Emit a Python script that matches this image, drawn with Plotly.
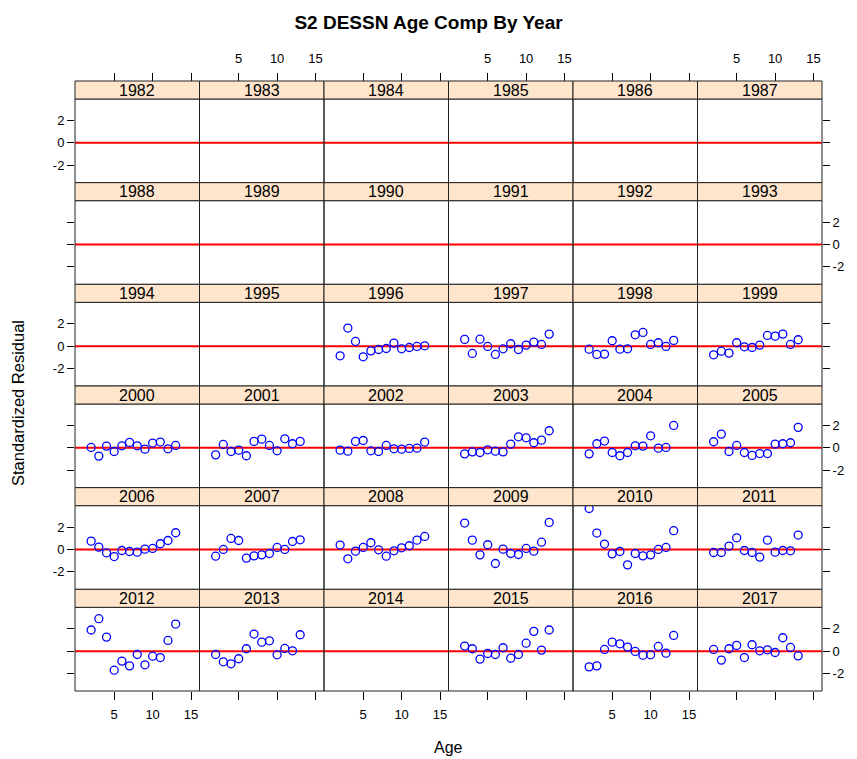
import plotly.graph_objects as go

# Ages and years shown in the trellis
ages = list(range(2, 14))
years = list(range(1982, 2018))

# Standardized residuals by year (ages 2-13)
resid_1996 = [-0.86, 1.61, 0.42, -0.95, -0.42, -0.30, -0.21, 0.27, -0.24, -0.12, -0.03, 0.03]
resid_1997 = [0.60, -0.65, 0.62, -0.03, -0.74, -0.24, 0.21, -0.30, 0.09, 0.36, 0.15, 1.07]
resid_1998 = [-0.27, -0.74, -0.71, 0.48, -0.27, -0.24, 1.01, 1.22, 0.15, 0.30, -0.03, 0.51]
resid_1999 = [-0.77, -0.45, -0.62, 0.30, -0.06, -0.12, 0.09, 0.95, 0.89, 1.07, 0.15, 0.57]
resid_2000 = [0.03, -0.74, 0.15, -0.33, 0.18, 0.48, 0.18, -0.12, 0.42, 0.51, -0.09, 0.21]
resid_2001 = [-0.63, 0.30, -0.33, -0.21, -0.71, 0.57, 0.77, 0.21, -0.27, 0.80, 0.36, 0.57]
resid_2002 = [-0.21, -0.30, 0.57, 0.65, -0.27, -0.33, 0.21, -0.09, -0.12, -0.06, -0.03, 0.51]
resid_2003 = [-0.54, -0.36, -0.42, -0.18, -0.30, -0.36, 0.33, 0.98, 0.89, 0.45, 0.68, 1.52]
resid_2004 = [-0.54, 0.36, 0.60, -0.42, -0.71, -0.42, 0.18, 0.15, 1.07, -0.03, 0.03, 1.99]
resid_2005 = [0.54, 1.22, -0.33, 0.21, -0.42, -0.68, -0.51, -0.51, 0.33, 0.36, 0.45, 1.82]
resid_2006 = [0.74, 0.21, -0.30, -0.63, -0.09, -0.18, -0.24, 0.03, 0.09, 0.51, 0.80, 1.49]
resid_2007 = [-0.60, 0.00, 0.98, 0.80, -0.77, -0.57, -0.48, -0.36, 0.18, 0.00, 0.71, 0.86]
resid_2008 = [0.39, -0.83, -0.15, 0.18, 0.60, -0.03, -0.60, -0.12, 0.15, 0.33, 0.83, 1.16]
resid_2009 = [2.35, 0.83, -0.48, 0.42, -1.25, 0.03, -0.36, -0.45, 0.09, -0.15, 0.65, 2.41]
resid_2010 = [3.65, 1.46, 0.48, -0.39, -0.18, -1.37, -0.36, -0.57, -0.48, 0.00, 0.18, 1.67]
resid_2011 = [-0.27, -0.27, 0.30, 1.04, -0.09, -0.27, -0.68, 0.83, -0.24, -0.09, -0.12, 1.28]
resid_2012 = [1.88, 2.89, 1.25, -1.70, -0.89, -1.31, -0.30, -1.22, -0.45, -0.57, 0.95, 2.41]
resid_2013 = [-0.30, -0.95, -1.13, -0.68, 0.21, 1.52, 0.80, 0.92, -0.33, 0.24, 0.03, 1.46]
resid_2015 = [0.45, 0.21, -0.71, -0.21, -0.30, 0.30, -0.63, -0.30, 0.71, 1.76, 0.09, 1.88]
resid_2016 = [-1.40, -1.31, 0.15, 0.80, 0.65, 0.36, -0.03, -0.36, -0.33, 0.42, -0.18, 1.40]
resid_2017 = [0.15, -0.80, 0.21, 0.51, -0.57, 0.57, 0.03, 0.12, -0.12, 1.19, 0.33, -0.42]

residuals = {
    1996: resid_1996, 1997: resid_1997, 1998: resid_1998, 1999: resid_1999,
    2000: resid_2000, 2001: resid_2001, 2002: resid_2002, 2003: resid_2003,
    2004: resid_2004, 2005: resid_2005, 2006: resid_2006, 2007: resid_2007,
    2008: resid_2008, 2009: resid_2009, 2010: resid_2010, 2011: resid_2011,
    2012: resid_2012, 2013: resid_2013, 2015: resid_2015, 2016: resid_2016,
    2017: resid_2017,
}

x_ticks = [5, 10, 15]
y_ticks = [-2, 0, 2]
y_ticktext = ["-2", "0", "2"]

W, H = 857, 759
ML, MR, MT, MB = 75, 35, 81, 68
plot_w = W - ML - MR
plot_h = H - MT - MB
strip_frac = 18 / plot_h
NCOL = NROW = 6

FONT = "Liberation Sans, Arial, sans-serif"
tickfont = dict(family=FONT, size=13, color="black")

fig = go.Figure()
layout_axes = {}
shapes = []
annotations = []

for i, yr in enumerate(years):
    r, c = divmod(i, NCOL)
    n = i + 1
    sfx = "" if n == 1 else str(n)
    xa, ya = "x" + sfx, "y" + sfx

    x0, x1 = c / NCOL, (c + 1) / NCOL
    row_top = 1 - r / NROW
    row_bot = 1 - (r + 1) / NROW
    strip_bot = row_top - strip_frac

    xcfg = dict(domain=[x0, x1], range=[-0.1, 16.1], anchor=ya,
                showgrid=False, zeroline=False, showline=False,
                tickvals=x_ticks, ticktext=[str(v) for v in x_ticks],
                tickfont=tickfont, ticklen=8, tickcolor="black", tickwidth=1,
                ticks="", showticklabels=False)
    if r == NROW - 1:
        xcfg.update(side="bottom", ticks="outside", showticklabels=(c % 2 == 0),
                    ticklabelstandoff=3)
    elif r == 0:
        xcfg.update(side="top", anchor="free", position=1.0, ticks="outside",
                    showticklabels=(c % 2 == 1), ticklabelstandoff=5)

    ycfg = dict(domain=[row_bot, strip_bot], range=[-3.55, 3.9], anchor=xa,
                showgrid=False, zeroline=False, showline=False,
                tickvals=y_ticks, ticktext=y_ticktext,
                tickfont=tickfont, ticklen=7, tickcolor="black", tickwidth=1,
                ticks="", showticklabels=False)
    if c == 0:
        ycfg.update(side="left", ticks="outside", showticklabels=(r % 2 == 0))
    elif c == NCOL - 1:
        ycfg.update(side="right", ticks="outside", showticklabels=(r % 2 == 1))

    layout_axes["xaxis" + sfx] = xcfg
    layout_axes["yaxis" + sfx] = ycfg

    # zero reference line
    shapes.append(dict(type="line", xref=xa + " domain", yref=ya,
                       x0=0, x1=1, y0=0, y1=0,
                       line=dict(color="red", width=2), layer="below"))
    # panel frame
    shapes.append(dict(type="rect", xref=xa + " domain", yref=ya + " domain",
                       x0=0, x1=1, y0=0, y1=1,
                       line=dict(color="#222222", width=1), layer="above"))
    # strip
    shapes.append(dict(type="rect", xref="paper", yref="paper",
                       x0=x0, x1=x1, y0=strip_bot, y1=row_top,
                       fillcolor="#FFE5CC", line=dict(color="#222222", width=1),
                       layer="above"))
    annotations.append(dict(text=str(yr), xref="paper", yref="paper",
                            x=(x0 + x1) / 2, y=(strip_bot + row_top) / 2,
                            xanchor="center", yanchor="middle", showarrow=False,
                            font=dict(family=FONT, size=16, color="black")))

    if yr in residuals:
        fig.add_trace(go.Scatter(
            x=ages, y=residuals[yr], mode="markers", xaxis=xa, yaxis=ya,
            marker=dict(symbol="circle-open", size=8, color="blue",
                        line=dict(width=1.3, color="blue")),
            showlegend=False, cliponaxis=True, hoverinfo="x+y"))

annotations.append(dict(text="Age", xref="paper", yref="paper", x=0.5, y=-0.075,
                        xanchor="center", yanchor="top", showarrow=False,
                        font=dict(family=FONT, size=16, color="black")))
annotations.append(dict(text="Standardized Residual", xref="paper", yref="paper",
                        x=(29 - ML) / plot_w, y=(H - MB - 403) / plot_h,
                        textangle=-90, xanchor="right",
                        yanchor="middle", showarrow=False,
                        font=dict(family=FONT, size=16.5, color="black")))

fig.update_layout(
    width=W, height=H,
    margin=dict(l=ML, r=MR, t=MT, b=MB),
    paper_bgcolor="white", plot_bgcolor="white",
    title=dict(text="<b>S2 DESSN Age Comp By Year</b>", x=0.5, xref="container",
               xanchor="center", y=1 - 22 / H, yanchor="middle",
               font=dict(family=FONT, size=19, color="black")),
    shapes=shapes, annotations=annotations, showlegend=False,
    **layout_axes,
)

fig.write_html("out.html")
